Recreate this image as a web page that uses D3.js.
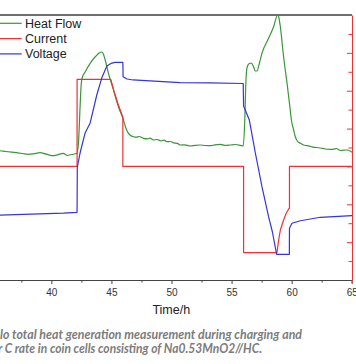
<!DOCTYPE html>
<html><head><meta charset="utf-8">
<script src="https://cdn.jsdelivr.net/npm/d3@7/dist/d3.min.js"></script>
<style>body{margin:0;background:#fff}svg{display:block}</style>
</head><body><svg id="c" width="356" height="364"></svg>
<script>
// ---- data (time in h) ----
const heatTime = [35.0,35.7,36.2,36.7,37.2,37.6,38.06,38.5,39.06,39.6,40.14,40.5,40.98,41.31,41.7,42.14,
  42.27,42.39,42.48,42.56,42.81,43.23,43.64,43.98,44.2,44.31,44.48,44.75,45.17,45.58,46.0,46.2,46.42,46.6,46.83,
  47.1,47.3,47.67,48.0,48.2,48.5,48.8,49.1,49.4,49.62,49.9,50.2,50.5,50.72,51.1,51.56,52.0,52.39,52.8,53.22,53.6,
  54.06,54.5,54.89,55.3,55.72,55.97,56.1,56.2,56.3,56.48,56.64,56.8,56.98,57.12,57.3,57.53,58.08,58.5,58.83,
  58.92,59.06,59.33,59.62,59.9,59.98,60.17,60.31,60.47,60.73,61.0,61.28,61.6,61.83,62.1,62.39,62.8,63.22,63.5,
  63.72,64.06,64.3,64.64,65.03];
const heatFlow = [0.300,0.293,0.285,0.278,0.272,0.265,0.257,0.262,0.273,0.258,0.243,0.252,0.267,0.247,0.255,0.267,
  0.40,0.733,0.95,1.02,1.08,1.167,1.23,1.27,1.28,1.265,1.20,1.067,0.90,0.733,0.60,0.52,0.467,0.445,0.433,
  0.428,0.435,0.417,0.412,0.418,0.40,0.405,0.392,0.398,0.383,0.385,0.372,0.366,0.35,0.352,0.34,0.347,0.35,0.345,0.343,0.352,
  0.357,0.346,0.35,0.355,0.347,0.34,0.60,1.0,1.13,1.165,1.17,1.14,1.09,1.09,1.16,1.267,1.417,1.533,1.65,
  1.633,1.533,1.233,0.967,0.683,0.60,0.50,0.43,0.39,0.367,0.350,0.343,0.335,0.327,0.325,0.32,0.31,0.307,0.309,
  0.315,0.295,0.298,0.30,0.277];

const currentTime = [35.0,42.14,42.14,44.95,45.2,45.55,45.95,45.95,56.0,56.0,58.78,58.92,59.06,59.33,59.56,59.75,59.82,59.82,65.0];
const current     = [0,0,0.46,0.46,0.40,0.33,0.26,0,0,-0.455,-0.455,-0.389,-0.336,-0.283,-0.246,-0.225,-0.22,0,0];

const voltageTime = [35.0,37.0,39.0,41.0,42.14,42.16,42.39,42.81,43.23,43.78,44.2,44.62,45.03,45.31,45.95,45.97,46.3,46.8,
  48.22,50.72,53.22,55.97,56.0,56.48,56.98,57.53,58.08,58.4,58.75,59.81,59.82,60.03,60.73,62.39,65.03];
const voltage     = [2.158,2.166,2.174,2.182,2.19,2.651,2.794,2.998,3.10,3.385,3.56,3.68,3.71,3.718,3.718,3.571,3.548,3.538,
  3.528,3.512,3.509,3.502,3.273,3.130,2.794,2.451,2.145,1.989,1.762,1.762,2.027,2.078,2.104,2.139,2.155];

const xMajorTicks = [40,45,50,55,60,65];
const xMinorTicks = [37.5,42.5,47.5,52.5,57.5,62.5];
const rightMajorTicks = [-0.4,-0.2,0,0.2,0.4,0.6];
const rightMinorTicks = [-0.5,-0.3,-0.1,0.1,0.3,0.5,0.7];
const legendLabels = ["Heat Flow","Current","Voltage"];
const xTitle = "Time/h";
const captionLines = ["lo total heat generation measurement during charging and",
                      "r C rate in coin cells consisting of Na0.53MnO2//HC."];

// ---- drawing ----
const C = {heat:"#3a963a", cur:"#ec3237", volt:"#3535d5"};
const svg = d3.select("#c");
const L=0, R=352, T=15, B=280;
const x = d3.scaleLinear().domain([35,65]).range([-8.7,351.7]);
const yHeat = d3.scaleLinear().domain([-1,1.65]).range([B,T]);
const yCur  = d3.scaleLinear().domain([-0.6,0.8]).range([B,T]);
const yVolt = d3.scaleLinear().domain([1.5,4.2]).range([B,T]);

svg.append("defs").append("clipPath").attr("id","clip")
  .append("rect").attr("x",L).attr("y",T-1).attr("width",R-L).attr("height",B-T+1);

const plot = svg.append("g").attr("clip-path","url(#clip)");
function series(tArr, vArr, y, color){
  const pts = tArr.map((t,i)=>[t,vArr[i]]);
  plot.append("path").datum(pts)
    .attr("d", d3.line().x(d=>x(d[0])).y(d=>y(d[1])).curve(d3.curveMonotoneX))
    .attr("fill","none").attr("stroke",color).attr("stroke-width",1.2).attr("stroke-linejoin","round");
}
function seriesLinear(tArr, vArr, y, color){
  const pts = tArr.map((t,i)=>[t,vArr[i]]);
  plot.append("path").datum(pts)
    .attr("d", d3.line().x(d=>x(d[0])).y(d=>y(d[1])))
    .attr("fill","none").attr("stroke",color).attr("stroke-width",1.2).attr("stroke-linejoin","round");
}
series(heatTime, heatFlow, yHeat, C.heat);
seriesLinear(currentTime, current, yCur, C.cur);
seriesLinear(voltageTime, voltage, yVolt, C.volt);

// top spine
svg.append("line").attr("x1",L).attr("x2",R).attr("y1",T).attr("y2",T)
  .attr("stroke","#6e6e6e").attr("stroke-width",2);

// bottom axis
const gx = svg.append("g").attr("transform",`translate(0,${B})`)
  .call(d3.axisBottom(x).tickValues(xMajorTicks).tickSize(4).tickSizeOuter(0).tickPadding(5));
gx.selectAll("path,line").attr("stroke","#444");
gx.selectAll("text").attr("fill","#333").style("font-family","'Liberation Sans',Arial,sans-serif").style("font-size","10px");
const gxm = svg.append("g").attr("transform",`translate(0,${B})`)
  .call(d3.axisBottom(x).tickValues(xMinorTicks).tickSize(2.5).tickFormat(()=>""));
gxm.select(".domain").remove();
gxm.selectAll("line").attr("stroke","#444");

svg.append("text").attr("x",171.3).attr("y",314.3).attr("text-anchor","middle")
  .style("font-family","'Liberation Sans',Arial,sans-serif").style("font-size","12.5px").attr("fill","#222")
  .text(xTitle);

// right (current) axis
const gr = svg.append("g").attr("transform",`translate(${R},0)`)
  .call(d3.axisLeft(yCur).tickValues(rightMajorTicks).tickSize(5).tickSizeOuter(0).tickFormat(()=>""));
gr.selectAll("path,line").attr("stroke",C.cur);
const grm = svg.append("g").attr("transform",`translate(${R},0)`)
  .call(d3.axisLeft(yCur).tickValues(rightMinorTicks).tickSize(3.5).tickFormat(()=>""));
grm.select(".domain").remove();
grm.selectAll("line").attr("stroke",C.cur);
svg.append("line").attr("x1",R).attr("x2",R).attr("y1",B).attr("y2",B+3).attr("stroke",C.cur);

// legend
const legColors = [C.heat, C.cur, C.volt];
const lg = svg.append("g");
legendLabels.forEach((lab,i)=>{
  const yy = 23.3 + i*15.3;
  lg.append("line").attr("x1",0).attr("x2",21.7).attr("y1",yy).attr("y2",yy)
    .attr("stroke",legColors[i]).attr("stroke-width",1.2);
  lg.append("text").attr("x",25).attr("y",yy+4.2)
    .style("font-family","'Liberation Sans',Arial,sans-serif").style("font-size","12.5px").attr("fill","#222")
    .text(lab);
});

// caption
const capX=[0,-2], capY=[338.5,352.7], capW=[302,264];
captionLines.forEach((s,i)=>{
  svg.append("text").attr("x",capX[i]).attr("y",capY[i])
    .attr("textLength",capW[i]).attr("lengthAdjust","spacingAndGlyphs")
    .style("font-family","Lato,'Open Sans',sans-serif").style("font-size","12.5px")
    .style("font-style","italic").style("font-weight","bold").attr("fill","#7c7c7c")
    .text(s);
});
</script></body></html>
